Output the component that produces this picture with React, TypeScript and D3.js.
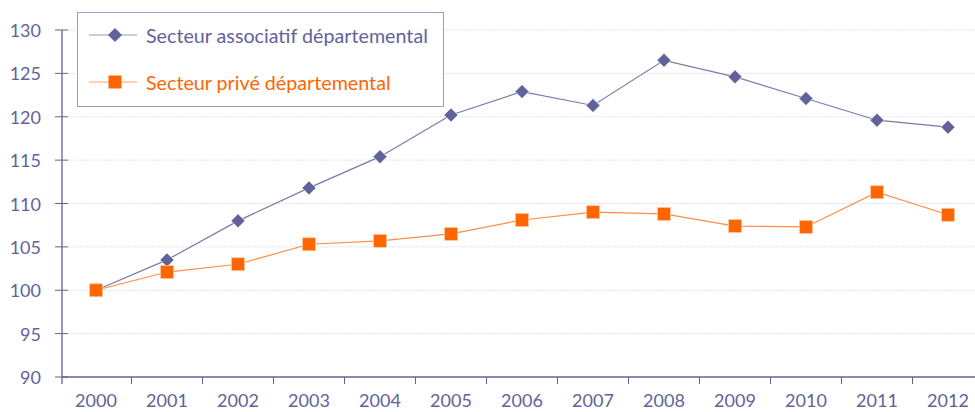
import React from "react";
import * as d3 from "d3";

const years = ["2000", "2001", "2002", "2003", "2004", "2005", "2006", "2007", "2008", "2009", "2010", "2011", "2012"];
const associatif = [100, 103.5, 108.0, 111.8, 115.4, 120.2, 122.9, 121.3, 126.5, 124.6, 122.1, 119.6, 118.8];
const prive = [100, 102.1, 103.0, 105.3, 105.7, 106.5, 108.1, 109.0, 108.8, 107.4, 107.3, 111.3, 108.7];
const yTicks = [90, 95, 100, 105, 110, 115, 120, 125, 130];
const seriesNames = ["Secteur associatif départemental", "Secteur privé départemental"];

const WIDTH = 975;
const HEIGHT = 412;
const FONT = "Lato, 'Open Sans', sans-serif";
const PURPLE = "#62629a";
const ORANGE = "#ff6600";

export default function App() {
  const x = d3.scaleBand<string>().domain(years).range([60.5, 60.5 + 71 * 13]);
  const y = d3.scaleLinear().domain([90, 130]).range([377, 30]);
  const cx = (yr: string) => (x(yr) ?? 0) + x.bandwidth() / 2;

  const line = d3
    .line<number>()
    .x((_, i) => cx(years[i]))
    .y((d) => y(d));

  const diamond = (px: number, py: number, r = 7) =>
    `M${px},${py - r}L${px + r},${py}L${px},${py + r}L${px - r},${py}Z`;

  return (
    <svg
      width={WIDTH}
      height={HEIGHT}
      style={{ position: "absolute", left: 0, top: 0, fontFamily: FONT }}
    >
      {/* gridlines */}
      {yTicks.slice(1).map((t) => (
        <line
          key={"g" + t}
          x1={68}
          x2={WIDTH}
          y1={y(t)}
          y2={y(t)}
          stroke="#e2e2ee"
          strokeDasharray="2,1"
        />
      ))}
      {/* y axis */}
      <line x1={62} x2={62} y1={y(130)} y2={y(90) + 7} stroke={PURPLE} strokeWidth={1.3} />
      {yTicks.map((t) => (
        <g key={"y" + t}>
          <line x1={55} x2={68} y1={y(t)} y2={y(t)} stroke={PURPLE} />
          <text
            x={41}
            y={y(t)}
            textAnchor="end"
            dominantBaseline="central"
            fontSize={18}
            fill={PURPLE}
          >
            {t}
          </text>
        </g>
      ))}
      {/* x axis */}
      <line x1={62} x2={WIDTH} y1={y(90)} y2={y(90)} stroke={PURPLE} strokeWidth={1.3} />
      {years.map((yr, i) => (
        <g key={"x" + yr}>
          {i > 0 && (
            <line
              x1={x(yr)}
              x2={x(yr)}
              y1={y(90)}
              y2={y(90) + 7}
              stroke={PURPLE}
            />
          )}
          <text
            x={cx(yr)}
            y={407}
            textAnchor="middle"
            fontSize={18}
            fill={PURPLE}
          >
            {yr}
          </text>
        </g>
      ))}

      {/* series */}
      <path d={line(associatif) ?? ""} fill="none" stroke="#7a7aaa" strokeWidth={1.2} />
      <path d={line(prive) ?? ""} fill="none" stroke="#ff8c45" strokeWidth={1.2} />
      {associatif.map((v, i) => (
        <path key={"a" + i} d={diamond(cx(years[i]), y(v))} fill={PURPLE} stroke="#fff" strokeWidth={0.6} />
      ))}
      {prive.map((v, i) => (
        <rect
          key={"p" + i}
          x={cx(years[i]) - 6.5}
          y={y(v) - 6.5}
          width={13}
          height={13}
          fill={ORANGE}
          stroke="#ffc8a0"
          strokeWidth={0.8}
        />
      ))}

      {/* legend */}
      <rect x={77.5} y={12.5} width={366} height={94} fill="#fff" stroke="#9c9cc4" strokeWidth={1} />
      <line x1={89} x2={137} y1={35} y2={35} stroke="#9c9cc4" strokeWidth={1.2} />
      <path d={diamond(115, 35, 7)} fill={PURPLE} />
      <text x={146} y={35} dominantBaseline="central" fontSize={19.7} fill={PURPLE}>
        {seriesNames[0]}
      </text>
      <line x1={89} x2={137} y1={82} y2={82} stroke="#ffc099" strokeWidth={1.5} />
      <rect x={108.5} y={75.5} width={13} height={13} fill={ORANGE} />
      <text x={146} y={82} dominantBaseline="central" fontSize={19.7} fill={ORANGE}>
        {seriesNames[1]}
      </text>
    </svg>
  );
}
